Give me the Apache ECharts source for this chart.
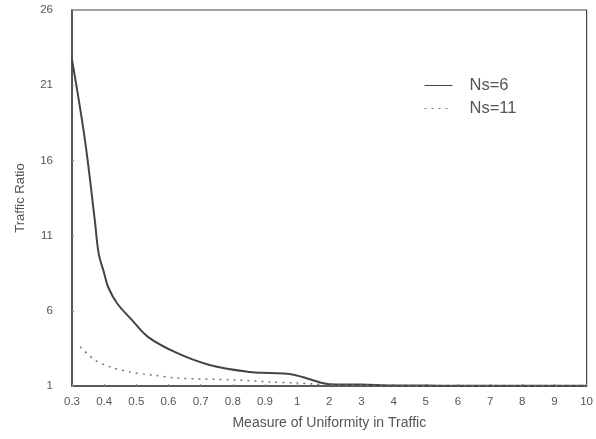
<!DOCTYPE html>
<html>
<head>
<meta charset="utf-8">
<script src="https://cdn.jsdelivr.net/npm/echarts@6/dist/echarts.min.js"></script>
<style>html,body{margin:0;padding:0;background:#fff}#c{width:596px;height:439px}</style>
</head>
<body>
<div id="c"></div>
<script>
// Tick labels of the (non-uniform) x axis, equally spaced
const xTickLabels = ['0.3','0.4','0.5','0.6','0.7','0.8','0.9','1','2','3','4','5','6','7','8','9','10'];
const yTickValues = [1, 6, 11, 16, 21, 26];

// Ns=6 (solid)
const ns6X = [0.3, 0.34, 0.371, 0.383, 0.4, 0.412, 0.44, 0.486, 0.536, 0.626, 0.728, 0.852, 0.914, 0.976, 1.16, 1.47, 1.78, 2, 3, 4, 5, 6, 7, 8, 9, 10];
const ns6Y = [22.7, 17.4, 12.0, 9.8, 8.5, 7.6, 6.5, 5.4, 4.27, 3.2, 2.4, 1.93, 1.86, 1.8, 1.6, 1.4, 1.2, 1.12, 1.1, 1.04, 1.03, 1.02, 1.02, 1.02, 1.02, 1.01];

// Ns=11 (dotted)
const ns11X = [0.325, 0.371, 0.418, 0.48, 0.55, 0.626, 0.81, 0.914, 1, 2, 3, 4, 5, 6, 7, 8, 9, 10];
const ns11Y = [3.6, 2.73, 2.27, 1.93, 1.73, 1.53, 1.4, 1.27, 1.2, 1.08, 1.05, 1.03, 1.02, 1.02, 1.02, 1.02, 1.02, 1.01];

// position of a real x value on the piecewise axis (0.1 steps up to 1, then unit steps)
function toPos(x) { return x <= 1 ? (x - 0.3) / 0.1 : 7 + (x - 1); }
function pairs(xs, ys) { return xs.map((x, i) => [toPos(x), ys[i]]); }

const textColor = '#555';
const lineColor = '#444';
const chart = echarts.init(document.getElementById('c'));
chart.setOption({
  animation: false,
  backgroundColor: '#fff',
  grid: { left: 72, right: 8, top: 10, bottom: 53, show: true, borderColor: lineColor, borderWidth: 1.2 },
  xAxis: {
    type: 'value', min: 0, max: xTickLabels.length - 1, interval: 1,
    name: 'Measure of Uniformity in Traffic', nameLocation: 'middle', nameGap: 30,
    nameTextStyle: { color: textColor, fontFamily: 'Liberation Sans', fontSize: 14 },
    axisLine: { lineStyle: { color: lineColor, width: 1.5 } },
    axisTick: { inside: true, length: 2, lineStyle: { color: '#888' } },
    axisLabel: { color: textColor, fontFamily: 'Liberation Sans', fontSize: 11.5, margin: 10,
      formatter: v => xTickLabels[Math.round(v)] },
    splitLine: { show: false }
  },
  yAxis: {
    type: 'value', min: 1, max: 26,
    name: 'Traffic Ratio', nameLocation: 'middle', nameGap: 45,
    nameTextStyle: { color: textColor, fontFamily: 'Liberation Sans', fontSize: 13 },
    axisLine: { show: true, lineStyle: { color: lineColor, width: 1.5 } },
    axisTick: { show: true, inside: true, length: 2, customValues: yTickValues, lineStyle: { color: '#888' } },
    axisLabel: { color: textColor, fontFamily: 'Liberation Sans', fontSize: 11.5, margin: 19, customValues: yTickValues },
    splitLine: { show: false }
  },
  legend: {
    show: true, left: 419, top: 72, orient: 'vertical', itemGap: 6, itemWidth: 28, itemHeight: 14,
    itemStyle: { opacity: 0 },
    lineStyle: { width: 1 },
    textStyle: { color: textColor, fontFamily: 'Liberation Sans', fontSize: 16.5, padding: [0, 0, 0, 12] },
    data: ['Ns=6', 'Ns=11']
  },
  series: [
    { name: 'Ns=6', type: 'line', data: pairs(ns6X, ns6Y), smooth: 0.35, symbol: 'none',
      lineStyle: { color: lineColor, width: 2 }, itemStyle: { color: lineColor } },
    { name: 'Ns=11', type: 'line', data: pairs(ns11X, ns11Y), smooth: 0.3, symbol: 'none',
      lineStyle: { color: '#777', width: 1.5, type: [2, 5] }, itemStyle: { color: '#777' } }
  ]
});
</script>
</body>
</html>
